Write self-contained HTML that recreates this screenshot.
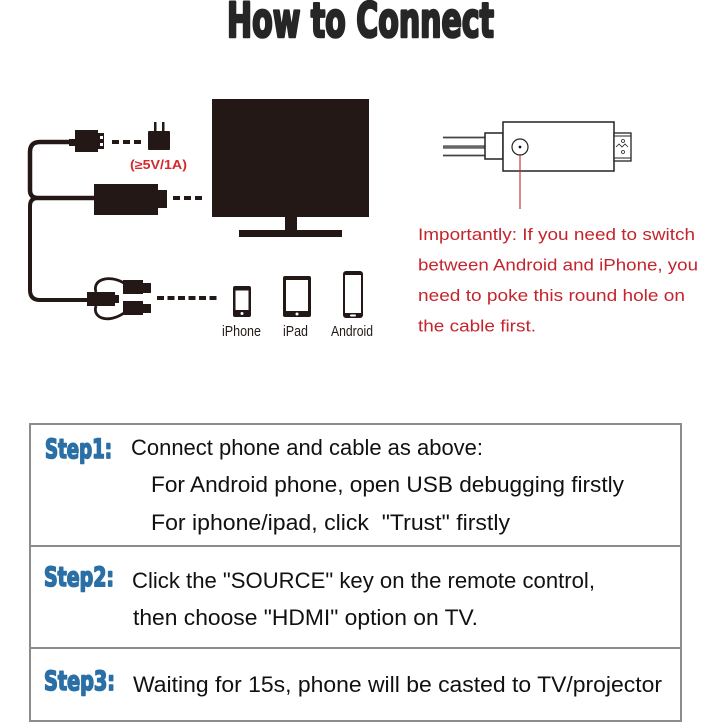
<!DOCTYPE html>
<html>
<head>
<meta charset="utf-8">
<style>
html,body{margin:0;padding:0;background:#fff;}
svg{display:block;}
</style>
</head>
<body>
<svg width="726" height="726" viewBox="0 0 726 726" xmlns="http://www.w3.org/2000/svg">
<rect x="0" y="0" width="726" height="726" fill="#fff"/>

<!-- Title -->
<text x="227" y="37" font-family="'DejaVu Sans Condensed','DejaVu Sans',sans-serif" font-weight="bold" font-size="48" fill="#262626" stroke="#262626" stroke-width="2.6" stroke-linejoin="round" textLength="267" lengthAdjust="spacingAndGlyphs">How to Connect</text>

<!-- ===== Left diagram ===== -->
<g fill="#231815" stroke="none">
  <!-- cables -->
  <path d="M75,142 H40 Q30,142 30,152 V190 Q30,198 38,198 H94" fill="none" stroke="#231815" stroke-width="4.5"/>
  <path d="M38,198 Q30,198 30,206 V290 Q30,300 40,300 H88" fill="none" stroke="#231815" stroke-width="4"/>
  <rect x="69" y="139" width="7" height="7"/>
  <!-- USB A plug -->
  <rect x="75" y="130" width="23" height="22"/>
  <rect x="98" y="133" width="6" height="16"/>
  <rect x="100" y="136" width="3" height="3" fill="#fff"/>
  <rect x="100" y="143" width="3" height="3" fill="#fff"/>
  <!-- dashes -->
  <rect x="112" y="140" width="7" height="4"/>
  <rect x="123" y="140" width="7" height="4"/>
  <rect x="134" y="140" width="7" height="4"/>
  <!-- adapter -->
  <rect x="148" y="131" width="22" height="19" rx="1"/>
  <rect x="154" y="122" width="2.5" height="9"/>
  <rect x="162" y="122" width="2.5" height="9"/>
  <!-- HDMI -->
  <rect x="94" y="184" width="64" height="31"/>
  <rect x="158" y="190" width="9" height="18"/>
  <rect x="173" y="196" width="7" height="4"/>
  <rect x="184" y="196" width="7" height="4"/>
  <rect x="195" y="196" width="7" height="4"/>
  <!-- TV -->
  <rect x="212" y="99" width="157" height="118"/>
  <rect x="285" y="216" width="12" height="15"/>
  <rect x="239" y="230" width="103" height="7"/>
  <!-- splitter -->
  <rect x="87" y="292" width="28" height="14"/>
  <rect x="115" y="295" width="4" height="8"/>
  <path d="M96,292 C92,280 108,274 124,283" fill="none" stroke="#231815" stroke-width="2.8"/>
  <path d="M96,306 C92,318 108,324 124,313" fill="none" stroke="#231815" stroke-width="2.8"/>
  <rect x="123" y="280" width="20" height="14"/>
  <rect x="143" y="283" width="8" height="10"/>
  <rect x="123" y="301" width="20" height="14"/>
  <rect x="143" y="304" width="8" height="9"/>
  <!-- dashes to phones -->
  <rect x="157" y="296" width="7" height="4"/>
  <rect x="167.5" y="296" width="7" height="4"/>
  <rect x="178" y="296" width="7" height="4"/>
  <rect x="188.5" y="296" width="7" height="4"/>
  <rect x="199" y="296" width="7" height="4"/>
  <rect x="209.5" y="296" width="7" height="4"/>
  <!-- iPhone -->
  <rect x="233" y="286" width="18" height="31" rx="2"/>
  <rect x="235.5" y="290.5" width="13" height="19.5" fill="#fff"/>
  <circle cx="242" cy="313.5" r="1.5" fill="#fff"/>
  <!-- iPad -->
  <rect x="283" y="276" width="28" height="41" rx="2"/>
  <rect x="286" y="280" width="22" height="31" fill="#fff"/>
  <circle cx="297" cy="314" r="1.5" fill="#fff"/>
  <!-- Android -->
  <rect x="343" y="271" width="20" height="47" rx="3"/>
  <rect x="345" y="275" width="16" height="38" fill="#fff"/>
  <rect x="350" y="314.5" width="6" height="2" rx="1" fill="#fff"/>
</g>
<text x="130" y="169" font-family="'Liberation Sans',sans-serif" font-weight="bold" font-size="12.5" fill="#d42a2a" textLength="57" lengthAdjust="spacingAndGlyphs">(≥5V/1A)</text>
<g font-family="'Liberation Sans',sans-serif" font-size="15" fill="#231815">
  <text x="222" y="336" textLength="39" lengthAdjust="spacingAndGlyphs">iPhone</text>
  <text x="283" y="336" textLength="25" lengthAdjust="spacingAndGlyphs">iPad</text>
  <text x="331" y="336" textLength="42" lengthAdjust="spacingAndGlyphs">Android</text>
</g>

<!-- ===== Right cable figure ===== -->
<g fill="none" stroke="#222">
  <line x1="443" y1="137.5" x2="485" y2="137.5" stroke="#444" stroke-width="1.8"/>
  <line x1="443" y1="147" x2="485" y2="147" stroke="#666" stroke-width="3.5"/>
  <line x1="443" y1="155.5" x2="485" y2="155.5" stroke="#444" stroke-width="1.8"/>
  <rect x="485" y="133" width="18" height="26" fill="#fff" stroke-width="1.5"/>
  <rect x="503" y="122" width="111" height="49" fill="#fff" stroke-width="1.5"/>
  <rect x="614" y="133" width="17" height="28" fill="#fff" stroke-width="1.3"/>
  <line x1="614" y1="136" x2="631" y2="136" stroke-width="1"/>
  <line x1="614" y1="158" x2="631" y2="158" stroke-width="1"/>
  <path d="M616,147 L619,144 L622,147 L625,144 L628,147" stroke-width="0.8"/>
  <circle cx="623" cy="141" r="1.5" stroke-width="0.8"/>
  <circle cx="623" cy="152" r="1.5" stroke-width="0.8"/>
  <circle cx="520" cy="147" r="8" stroke-width="1.2"/>
</g>
<circle cx="520" cy="147" r="1.4" fill="#111"/>
<line x1="520" y1="155" x2="520" y2="209" stroke="#c8343a" stroke-width="1.2"/>
<g font-family="'Liberation Sans',sans-serif" font-size="17" fill="#c4252d">
  <text x="418" y="240" textLength="277" lengthAdjust="spacingAndGlyphs">Importantly: If you need to switch</text>
  <text x="418" y="270.5" textLength="280" lengthAdjust="spacingAndGlyphs">between Android and iPhone, you</text>
  <text x="418" y="301" textLength="267" lengthAdjust="spacingAndGlyphs">need to poke this round hole on</text>
  <text x="418" y="331.5" textLength="118" lengthAdjust="spacingAndGlyphs">the cable first.</text>
</g>

<!-- ===== Steps table ===== -->
<g fill="none" stroke="#8c8c8c" stroke-width="2">
  <rect x="30" y="424" width="651" height="297"/>
  <line x1="30" y1="546" x2="681" y2="546"/>
  <line x1="30" y1="648" x2="681" y2="648"/>
</g>
<g font-family="'DejaVu Sans Condensed','DejaVu Sans',sans-serif" font-weight="bold" font-size="27" fill="#2a6fa5" stroke="#2a6fa5" stroke-width="1.6" stroke-linejoin="round">
  <text x="45" y="458" textLength="67" lengthAdjust="spacingAndGlyphs">Step1:</text>
  <text x="44" y="586" textLength="70" lengthAdjust="spacingAndGlyphs">Step2:</text>
  <text x="44" y="690" textLength="71" lengthAdjust="spacingAndGlyphs">Step3:</text>
</g>
<g font-family="'Liberation Sans',sans-serif" font-size="22" fill="#111">
  <text x="131" y="455" textLength="352" lengthAdjust="spacingAndGlyphs">Connect phone and cable as above:</text>
  <text x="151" y="492" textLength="473" lengthAdjust="spacingAndGlyphs">For Android phone, open USB debugging firstly</text>
  <text x="151" y="530" textLength="359" lengthAdjust="spacingAndGlyphs" xml:space="preserve">For iphone/ipad, click  "Trust" firstly</text>
  <text x="132" y="588" textLength="463" lengthAdjust="spacingAndGlyphs">Click the "SOURCE" key on the remote control,</text>
  <text x="133" y="625" textLength="345" lengthAdjust="spacingAndGlyphs">then choose "HDMI" option on TV.</text>
  <text x="133" y="692" textLength="529" lengthAdjust="spacingAndGlyphs">Waiting for 15s, phone will be casted to TV/projector</text>
</g>
</svg>
</body>
</html>
